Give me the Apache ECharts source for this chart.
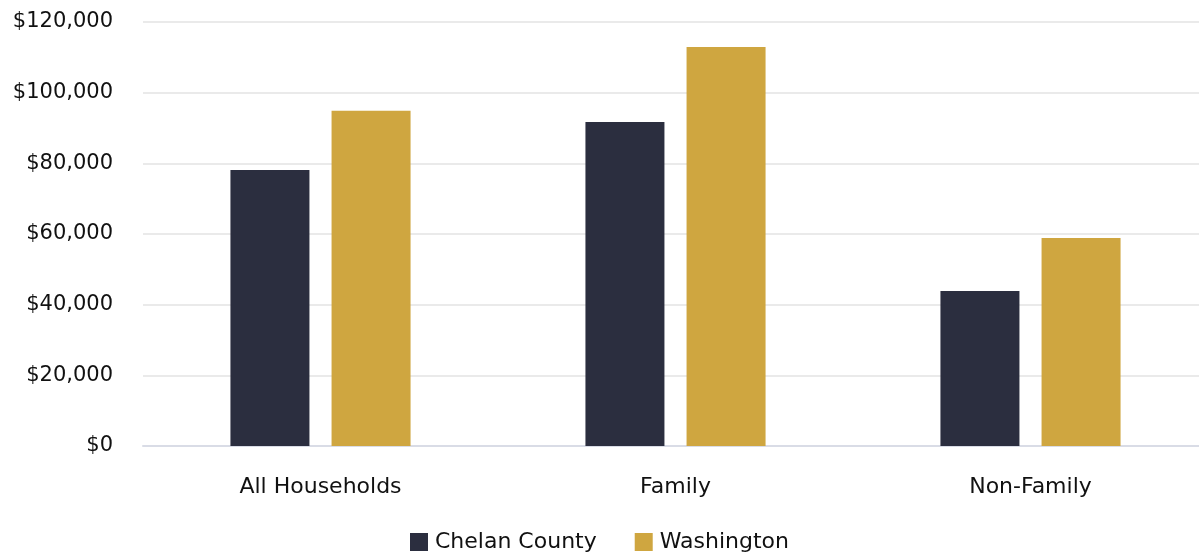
<!DOCTYPE html>
<html><head><meta charset="utf-8">
<script src="https://cdn.jsdelivr.net/npm/echarts@6/dist/echarts.min.js"></script>
<style>html,body{margin:0;padding:0;background:#fff}#c{width:1199px;height:554px}</style>
</head><body><div id="c"></div>
<script>
const categories = ["All Households", "Family", "Non-Family"];
const chelan = [78100, 91700, 43900];
const washington = [94900, 112900, 58900];
const seriesNames = ["Chelan County", "Washington"];
const colors = ["#2b2e3f", "#cfa640"];
const FONT = "'DejaVu Sans', sans-serif";
const chart = echarts.init(document.getElementById('c'));
chart.setOption({
  animation: false,
  textStyle: { fontFamily: FONT },
  grid: { left: 143, right: -9, top: 22, bottom: 108, containLabel: false, outerBoundsMode: 'none' },
  legend: {
    top: 526, left: 'center', itemWidth: 18, itemHeight: 18, itemGap: 38,
    icon: 'rect',
    textStyle: { fontSize: 22, color: '#111', fontFamily: FONT, padding: [0, 0, 0, 2] },
    data: seriesNames
  },
  xAxis: {
    type: 'category', data: categories,
    axisLine: { lineStyle: { color: '#d9dce6', width: 2 } },
    axisTick: { show: false },
    axisLabel: { fontSize: 22, color: '#111', margin: 30, fontFamily: FONT }
  },
  yAxis: {
    type: 'value', min: 0, max: 120000, interval: 20000,
    axisLine: { show: false }, axisTick: { show: false },
    splitLine: { lineStyle: { color: '#e3e3e3', width: 1.5 } },
    axisLabel: { fontSize: 21, color: '#111', margin: 30, fontFamily: FONT,
      formatter: v => '$' + v.toLocaleString('en-US') }
  },
  series: [
    { name: seriesNames[0], type: 'bar', data: chelan, barWidth: 79, barGap: '28%', itemStyle: { color: colors[0] } },
    { name: seriesNames[1], type: 'bar', data: washington, barWidth: 79, barGap: '28%', itemStyle: { color: colors[1] } }
  ]
});
</script></body></html>
